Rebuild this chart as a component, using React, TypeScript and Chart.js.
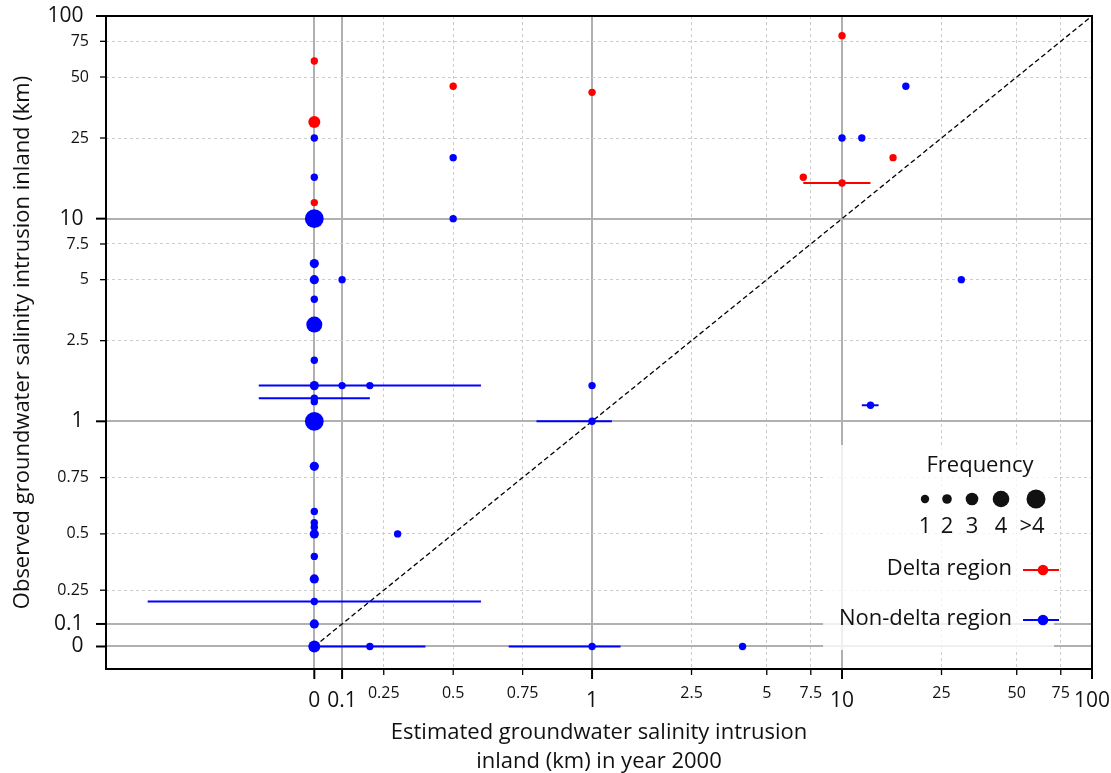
import React, { useEffect, useRef } from 'react';
import { Chart, LinearScale, registerables } from 'chart.js';

Chart.register(...registerables);

const FONT = '"Open Sans", "Noto Sans", sans-serif';

// ---- axis ticks (shared by both axes) ----
const TICK_VALUES = [0, 0.1, 0.25, 0.5, 0.75, 1, 2.5, 5, 7.5, 10, 25, 50, 75, 100];
const TICK_LABELS = ['0', '0.1', '0.25', '0.5', '0.75', '1', '2.5', '5', '7.5', '10', '25', '50', '75', '100'];
const MAJOR_TICKS = [0, 0.1, 1, 10, 100];

const X_MIN = -0.75;
const X_MAX = 100;
const Y_MIN = -0.1;
const Y_MAX = 100;

// ---- Non-delta region (blue) ----
const ND_X = [0, 0, 0, 0, 0, 0, 0, 0, 0, 0, 0, 0, 0, 0, 0, 0, 0, 0, 0, 0, 0, 0,
  0.1, 0.1, 0.2, 0.2, 0.3, 0.5, 0.5, 1, 1, 1, 4, 10, 12, 13, 18, 30];
const ND_Y = [25, 16, 10, 6, 5, 4, 3, 2, 1.5, 1.3, 1.25, 1, 0.8, 0.6, 0.55, 0.53, 0.5, 0.4, 0.3, 0.2, 0.1, 0,
  5, 1.5, 1.5, 0, 0.5, 20, 10, 1.5, 1, 0, 0, 25, 25, 1.2, 45, 5];
const ND_FREQ = [1, 1, 5, 2, 2, 1, 4, 1, 2, 1, 1, 5, 2, 1, 1, 1, 2, 1, 2, 1, 2, 3,
  1, 1, 1, 1, 1, 1, 1, 1, 1, 1, 1, 1, 1, 1, 1, 1];

// ---- Delta region (red) ----
const D_X = [0, 0, 0, 0.5, 1, 7, 10, 10, 16];
const D_Y = [60, 30, 12, 45, 42, 16, 80, 15, 20];
const D_FREQ = [1, 3, 1, 1, 1, 1, 1, 1, 1];

// ---- horizontal error bars ----
const ND_ERR_Y = [0.2, 1.5, 1.3, 1, 0, 0, 1.2];
const ND_ERR_LO = [-0.6, -0.2, -0.2, 0.8, 0, 0.7, 12];
const ND_ERR_HI = [0.6, 0.6, 0.2, 1.2, 0.4, 1.3, 14];
const D_ERR_Y = [15];
const D_ERR_LO = [7];
const D_ERR_HI = [13];

// ---- legend ----
const FREQ_LABELS = ['1', '2', '3', '4', '>4'];
const REGION_LABELS = ['Delta region', 'Non-delta region'];

const BLUE = '#0000ff';
const RED = '#ff0000';
const RADII = [3.7, 4.6, 6, 8, 9.4];
const LEGEND_RADII = [4.2, 4.8, 6.3, 8.3, 9.5];

// symmetric log transform (linthresh 1, base 10)
const LIN = 1 / (1 - 1 / 10);
function symlog(v: number): number {
  const a = Math.abs(v);
  return a <= 1 ? v * LIN : Math.sign(v) * (LIN + Math.log10(a));
}
function symexp(t: number): number {
  const a = Math.abs(t);
  return a <= LIN ? t / LIN : Math.sign(t) * Math.pow(10, a - LIN);
}

class SymlogScale extends LinearScale {
  static id = 'symlog';
  static defaults = {};
  determineDataLimits() {
    const o: any = this.options;
    this.min = o.min;
    this.max = o.max;
  }
  buildTicks() {
    return TICK_VALUES.map((v) => ({ value: v, major: MAJOR_TICKS.includes(v) })) as any;
  }
  configure() {
    super.configure();
    const self: any = this;
    self._startValue = symlog(this.min);
    self._endValue = symlog(this.max);
    self._valueRange = self._endValue - self._startValue;
  }
  getPixelForValue(value: number) {
    const self: any = this;
    return this.getPixelForDecimal((symlog(value) - self._startValue) / self._valueRange);
  }
  getValueForPixel(pixel: number) {
    const self: any = this;
    return symexp(self._startValue + this.getDecimalForPixel(pixel) * self._valueRange);
  }
}
Chart.register(SymlogScale as any);

const isMajor = (c: any) => !!(c && c.tick && c.tick.major);

const framePlugin = {
  id: 'frame',
  afterDraw(chart: any) {
    const { ctx, chartArea: a } = chart;
    const xs = chart.scales.x;
    const ys = chart.scales.y;
    ctx.save();
    ctx.strokeStyle = '#000';
    ctx.lineCap = 'butt';
    xs.ticks.forEach((t: any) => {
      const p = xs.getPixelForValue(t.value);
      ctx.lineWidth = t.major ? 2 : 1.3;
      const len = t.major ? 10 : 6;
      ctx.beginPath();
      ctx.moveTo(p, a.bottom);
      ctx.lineTo(p, a.bottom + len);
      ctx.stroke();
    });
    ys.ticks.forEach((t: any) => {
      const p = ys.getPixelForValue(t.value);
      ctx.lineWidth = t.major ? 2 : 1.3;
      const len = t.major ? 10 : 6;
      ctx.beginPath();
      ctx.moveTo(a.left - len, p);
      ctx.lineTo(a.left, p);
      ctx.stroke();
    });
    ctx.lineWidth = 2;
    ctx.strokeRect(a.left, a.top, a.right - a.left, a.bottom - a.top);
    ctx.restore();
  },
};

const legendPlugin = {
  id: 'customLegend',
  afterDatasetsDraw(chart: any) {
    const { ctx, chartArea: a } = chart;
    const R = a.right;
    const B = a.bottom;
    ctx.save();
    ctx.fillStyle = 'rgba(255,255,255,0.8)';
    ctx.fillRect(R - 269, B - 224, 231, 205);

    ctx.fillStyle = '#111';
    ctx.font = `22px ${FONT}`;
    ctx.textBaseline = 'middle';
    ctx.textAlign = 'center';
    ctx.fillText('Frequency', R - 112, B - 203);

    const dotX = [R - 167, R - 145, R - 120, R - 91, R - 56];
    FREQ_LABELS.forEach((lbl, i) => {
      ctx.beginPath();
      ctx.arc(dotX[i], B - 170, LEGEND_RADII[i], 0, Math.PI * 2);
      ctx.fill();
      ctx.fillText(lbl, i === 4 ? R - 60 : dotX[i], B - 142);
    });

    const colors = [RED, BLUE];
    REGION_LABELS.forEach((lbl, i) => {
      const y = B - 100 + i * 50;
      ctx.fillStyle = '#111';
      ctx.textAlign = 'right';
      ctx.fillText(lbl, R - 80, y);
      ctx.strokeStyle = colors[i];
      ctx.lineWidth = 2;
      ctx.beginPath();
      ctx.moveTo(R - 69, y + 1);
      ctx.lineTo(R - 33, y + 1);
      ctx.stroke();
      ctx.fillStyle = colors[i];
      ctx.beginPath();
      ctx.arc(R - 49, y + 1, 5.3, 0, Math.PI * 2);
      ctx.fill();
    });
    ctx.restore();
  },
};

function errorBarSets(ys: number[], lo: number[], hi: number[], color: string) {
  return ys.map((y, i) => ({
    data: [{ x: lo[i], y }, { x: hi[i], y }],
    showLine: true,
    borderColor: color,
    borderWidth: 2,
    pointRadius: 0,
    fill: false,
    order: 2,
  }));
}

export default function App() {
  const ref = useRef<HTMLCanvasElement | null>(null);
  useEffect(() => {
    if (!ref.current) return;
    const tickFont = (c: any) =>
      isMajor(c)
        ? { family: FONT, size: 21, lineHeight: 1.58 }
        : { family: FONT, size: 16, lineHeight: 1.2 };
    const gridCommon = {
      drawTicks: false,
      color: (c: any) => (isMajor(c) ? '#b0b0b0' : '#cccccc'),
      lineWidth: (c: any) => (isMajor(c) ? 2 : 1),
    };
    const borderCommon = {
      display: false,
      dash: (c: any) => (c && c.tick && !c.tick.major ? [3, 3] : []),
    };
    const chart = new Chart(ref.current, {
      type: 'scatter',
      data: {
        datasets: [
          {
            data: [{ x: 0, y: 0 }, { x: 100, y: 100 }],
            showLine: true,
            borderColor: '#000',
            borderWidth: 1.3,
            borderDash: [5, 3],
            pointRadius: 0,
            order: 3,
          } as any,
          ...errorBarSets(ND_ERR_Y, ND_ERR_LO, ND_ERR_HI, BLUE),
          ...errorBarSets(D_ERR_Y, D_ERR_LO, D_ERR_HI, RED),
          {
            data: ND_X.map((x, i) => ({ x, y: ND_Y[i] })),
            backgroundColor: BLUE,
            borderWidth: 0,
            pointRadius: ND_FREQ.map((f) => RADII[f - 1]),
            order: 1,
          },
          {
            data: D_X.map((x, i) => ({ x, y: D_Y[i] })),
            backgroundColor: RED,
            borderWidth: 0,
            pointRadius: D_FREQ.map((f) => RADII[f - 1]),
            order: 0,
          },
        ],
      },
      options: {
        animation: false,
        responsive: false,
        devicePixelRatio: 1,
        events: [],
        layout: { padding: { left: 0, top: 16, right: 19, bottom: 0 } },
        plugins: { legend: { display: false }, tooltip: { enabled: false } },
        scales: {
          x: {
            type: 'symlog' as any,
            min: X_MIN,
            max: X_MAX,
            grid: gridCommon,
            border: borderCommon,
            ticks: {
              autoSkip: false,
              maxRotation: 0,
              minRotation: 0,
              padding: 15,
              color: '#111',
              font: tickFont,
              callback: (_v: any, i: number) => TICK_LABELS[i],
            },
            title: {
              display: true,
              text: ['Estimated groundwater salinity intrusion', 'inland (km) in year 2000'],
              color: '#111',
              font: { family: FONT, size: 22, lineHeight: 1.3 },
              padding: { top: 0, bottom: -3 },
            },
            afterFit: (s: any) => {
              s.height = 104;
              s.paddingLeft = 0;
              s.paddingRight = 0;
            },
          } as any,
          y: {
            type: 'symlog' as any,
            min: Y_MIN,
            max: Y_MAX,
            grid: gridCommon,
            border: borderCommon,
            ticks: {
              autoSkip: false,
              padding: 17,
              color: '#111',
              font: tickFont,
              callback: (v: any, i: number) =>
                MAJOR_TICKS.includes(TICK_VALUES[i]) ? TICK_LABELS[i] + ' ' : TICK_LABELS[i],
            },
            title: {
              display: true,
              text: 'Observed groundwater salinity intrusion inland (km)',
              color: '#111',
              font: { family: FONT, size: 22, lineHeight: 1.2 },
              padding: { top: 10, bottom: 0 },
            },
            afterFit: (s: any) => {
              s.width = 106;
              s.paddingTop = 0;
              s.paddingBottom = 0;
            },
          } as any,
        },
      },
      plugins: [legendPlugin, framePlugin],
    });
    return () => chart.destroy();
  }, []);
  return (
    <div style={{ position: 'absolute', left: 0, top: 0, width: 1111, height: 773, background: '#fff' }}>
      <canvas ref={ref} width={1111} height={773} />
    </div>
  );
}
